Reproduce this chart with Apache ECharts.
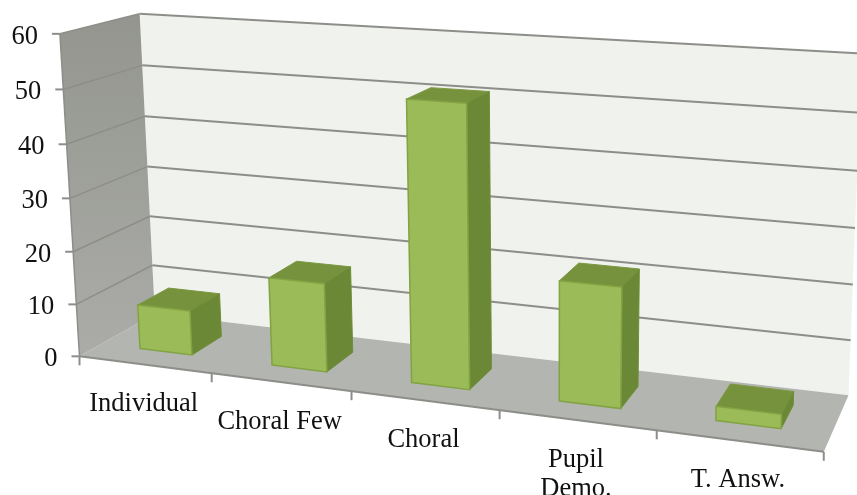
<!DOCTYPE html>
<html>
<head>
<meta charset="utf-8">
<style>html,body{margin:0;padding:0;background:#fff}#chart{width:857px;height:495px}</style>
<script src="https://cdn.jsdelivr.net/npm/echarts@6/dist/echarts.min.js"></script>
</head>
<body>
<div id="chart"></div>
<script>
const categories = ['Individual', 'Choral Few', 'Choral', 'Pupil\nDemo.', 'T. Answ.'];
const values = [8.5, 16.5, 51, 21.5, 2.5];
const yTicks = [0, 10, 20, 30, 40, 50, 60];
const yMax = 60;

// Camera anchors: [along category axis 0..1, up value axis 0..1, towards viewer 0..1, screen x, screen y]
const anchors = [
  // walls, floor and axis ticks
  [0, 0, 0, 154, 314], [1, 0, 0, 848, 396], [1, 1, 0, 858, 52], [0, 1, 0, 140, 14],
  [0, 0, 1, 81, 356], [1, 0, 1, 823, 453], [0, 1, 1, 59, 34],
  [0.2, 0, 1, 211, 373], [0.6, 0, 1, 498, 412], [0.8, 0, 1, 655, 432],
  [0, 1 / 6, 0, 152, 266], [0, 0.5, 0, 147, 167], [1, 1 / 6, 0, 852, 341],
  [0, 5 / 6, 1, 62, 91], [0, 2 / 3, 1, 65, 146], [0, 1 / 3, 1, 73, 252], [0, 1 / 6, 1, 77, 304],
  // points inside the scene, at the depth planes used by the boxes
  [0.06, 0, 0.72, 141, 347], [0.14, 0, 0.72, 193, 353], [0.14, 0, 0.3, 221, 337],
  [0.26, 0, 0.72, 272, 364], [0.34, 0, 0.72, 327, 371], [0.34, 0, 0.3, 352, 352],
  [0.46, 0, 0.72, 411, 382], [0.54, 0, 0.72, 470, 389], [0.54, 0, 0.3, 491, 371],
  [0.66, 0, 0.72, 559, 400], [0.74, 0, 0.72, 622, 408], [0.74, 0, 0.3, 638, 387],
  [0.86, 0, 0.72, 715, 420], [0.94, 0, 0.72, 783, 428], [0.94, 0, 0.3, 794, 405],
  [0.46, 0.85, 0.72, 408, 98], [0.54, 0.85, 0.72, 469, 103], [0.54, 0.85, 0.3, 492, 91], [0.46, 0.85, 0.3, 432, 87]
];

// Least-squares fit of a projective camera (11 unknowns) to the anchors.
function fitCamera(pts) {
  const n = 11;
  const A = Array.from({ length: n }, () => new Array(n + 1).fill(0));
  const add = (row, rhs) => {
    for (let i = 0; i < n; i++) {
      for (let j = 0; j < n; j++) A[i][j] += row[i] * row[j];
      A[i][n] += row[i] * rhs;
    }
  };
  pts.forEach(([u, v, d, x, y]) => {
    add([u, v, d, 1, 0, 0, 0, 0, -x * u, -x * v, -x * d], x);
    add([0, 0, 0, 0, u, v, d, 1, -y * u, -y * v, -y * d], y);
  });
  for (let c = 0; c < n; c++) {
    let best = c;
    for (let r = c + 1; r < n; r++) if (Math.abs(A[r][c]) > Math.abs(A[best][c])) best = r;
    [A[c], A[best]] = [A[best], A[c]];
    for (let r = 0; r < n; r++) {
      if (r === c) continue;
      const f = A[r][c] / A[c][c];
      for (let k = c; k <= n; k++) A[r][k] -= f * A[c][k];
    }
  }
  return A.map((row, i) => row[n] / row[i]);
}
const cam = fitCamera(anchors);
function project(u, v, d) {
  const w = cam[8] * u + cam[9] * v + cam[10] * d + 1;
  return [
    (cam[0] * u + cam[1] * v + cam[2] * d + cam[3]) / w,
    (cam[4] * u + cam[5] * v + cam[6] * d + cam[7]) / w
  ];
}
const scene = (params, api) => {
  // Turns axis values into projected screen points through the hidden cartesian axes.
  const g = params.coordSys;
  return {
    band: g.width / categories.length,
    pt(cat, val, d, du) {
      const p = api.coord([cat, val]);
      const u = (p[0] - g.x) / g.width + (du || 0) / categories.length;
      const v = (g.y + g.height - p[1]) / g.height;
      return project(u, v, d);
    }
  };
};
const poly = (points, style) => ({ type: 'polygon', shape: { points }, style, silent: true });
const seg = (points, stroke, lineWidth) => ({
  type: 'polyline', shape: { points }, silent: true,
  style: { stroke, lineWidth, fill: 'none' }
});
const SERIF = '"Liberation Serif", serif';
const LINE = '#8d8e89';
const grad = (a, b, x2, y2) => ({
  type: 'linear', x: 0, y: 0, x2, y2,
  colorStops: [{ offset: 0, color: a }, { offset: 1, color: b }]
});

const chart = echarts.init(document.getElementById('chart'), null, { renderer: 'canvas' });

function renderWalls(params, api) {
  const c = project;
  return {
    type: 'group',
    children: [
      poly([c(0, 0, 0), c(1, 0, 0), c(1, 1, 0), c(0, 1, 0)], { fill: '#f0f2ed' }),
      poly([c(0, 0, 0), c(1, 0, 0), c(1, 0, 1), c(0, 0, 1)], { fill: '#b3b5b0' }),
      poly([c(0, 0, 1), c(0, 0, 0), c(0, 1, 0), c(0, 1, 1)], { fill: grad('#93958e', '#abaca8', 0, 1) }),
      seg([c(0, 0, 1), c(1, 0, 1)], LINE, 2),
      seg([c(0, 0, 1), c(0, 1, 1)], LINE, 1.5)
    ]
  };
}

function renderGridline(params, api) {
  const s = scene(params, api);
  const t = api.value(1);
  const front = s.pt(0, t, 1, -0.5);
  const back = s.pt(0, t, 0, -0.5);
  const far = s.pt(categories.length - 1, t, 0, 0.5);
  const kids = [
    seg([[front[0] - 8, front[1]], front], LINE, 2),
    {
      type: 'text', silent: true,
      style: {
        x: front[0] - 22, y: front[1] + 3, text: String(t), fill: '#111',
        font: '26.5px ' + SERIF, align: 'right', verticalAlign: 'middle'
      }
    }
  ];
  if (t > 0) kids.push(seg([front, back], LINE, 1.5));
  if (t > 0) kids.push(seg([back, far], LINE, 2));
  return { type: 'group', children: kids };
}

function renderCategoryMarks(params, api) {
  const s = scene(params, api);
  const i = api.value(0);
  const left = s.pt(i, 0, 1, -0.5);
  const right = s.pt(i, 0, 1, 0.5);
  const mid = s.pt(i, 0, 1, 0);
  const kids = [seg([right, [right[0], right[1] + 9]], LINE, 2)];
  if (i === 0) kids.push(seg([left, [left[0], left[1] + 9]], LINE, 2));
  kids.push({
    type: 'text', silent: true,
    style: {
      x: mid[0] - 1, y: mid[1] + 25, text: categories[i], fill: '#111',
      font: '26.5px ' + SERIF, lineHeight: 29, align: 'center', verticalAlign: 'top'
    }
  });
  return { type: 'group', children: kids };
}

const HALF_BAR = 0.2, NEAR = 0.72, FAR = 0.3;
function renderBar(params, api) {
  const s = scene(params, api);
  const i = api.value(0), val = api.value(1);
  const a = (y, d, du) => s.pt(i, y, d, du);
  const fbl = a(0, NEAR, -HALF_BAR), fbr = a(0, NEAR, HALF_BAR);
  const ftl = a(val, NEAR, -HALF_BAR), ftr = a(val, NEAR, HALF_BAR);
  const bbr = a(0, FAR, HALF_BAR);
  const btl = a(val, FAR, -HALF_BAR), btr = a(val, FAR, HALF_BAR);
  const edge = { lineWidth: 1 };
  return {
    type: 'group',
    children: [
      poly([ftl, ftr, btr, btl], { fill: '#76923d', stroke: '#7c9842', ...edge }),
      poly([fbr, bbr, btr, ftr], { fill: '#6a8835', stroke: '#6f8e38', ...edge }),
      poly([fbl, fbr, ftr, ftl], { fill: '#9abb57', stroke: '#83a243', lineWidth: 1.5 })
    ]
  };
}

chart.setOption({
  animation: false,
  backgroundColor: '#ffffff',
  grid: { left: 0, right: 0, top: 0, bottom: 0, show: false },
  xAxis: { type: 'category', data: categories, show: false },
  yAxis: { type: 'value', min: 0, max: yMax, interval: 10, show: false },
  tooltip: { show: false },
  series: [
    { type: 'custom', name: 'walls', renderItem: renderWalls, data: [[0, 0]], encode: { x: 0, y: 1 } },
    { type: 'custom', name: 'gridlines', renderItem: renderGridline, data: yTicks.map(t => [0, t]), encode: { x: 0, y: 1 } },
    { type: 'custom', name: 'category marks', renderItem: renderCategoryMarks, data: categories.map((_, i) => [i, 0]), encode: { x: 0, y: 1 } },
    { type: 'custom', name: 'Bars', renderItem: renderBar, data: values.map((v, i) => [i, v]), encode: { x: 0, y: 1 } }
  ]
});
</script>
</body>
</html>
